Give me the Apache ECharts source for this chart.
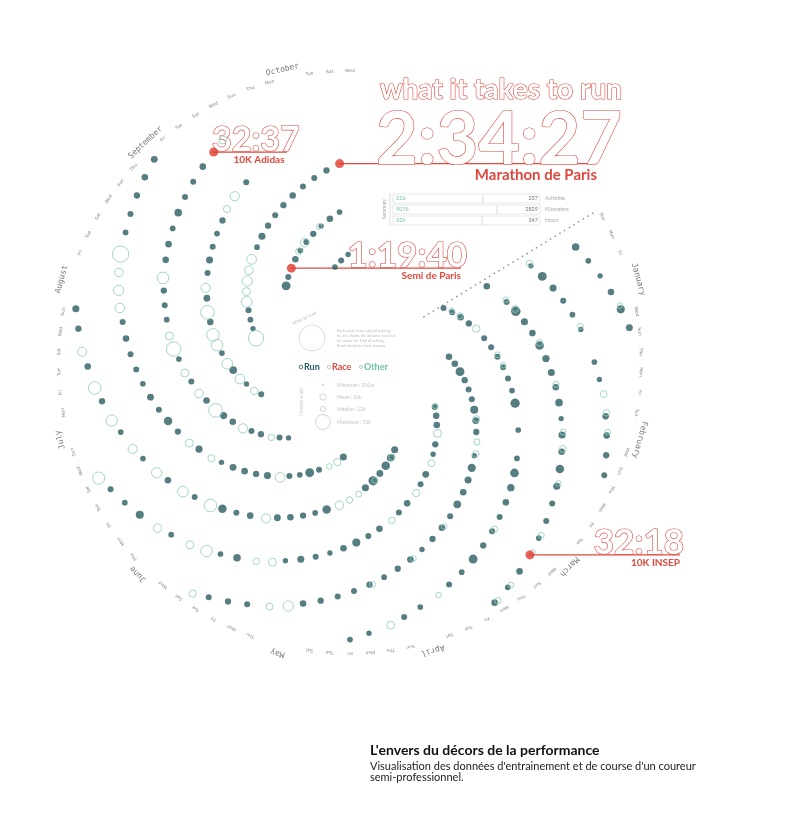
<!DOCTYPE html>
<html>
<head>
<meta charset="utf-8">
<script src="https://cdn.jsdelivr.net/npm/echarts@6/dist/echarts.min.js"></script>
<style>
html, body { margin: 0; padding: 0; background: #fff; }
#chart { width: 800px; height: 818px; }
</style>
</head>
<body>
<div id="chart"></div>
<script>
/* ---------- data : one value per day (km), 0 = no activity ---------- */
var months = ['January', 'February', 'March', 'April', 'May', 'June', 'July', 'August', 'September', 'October'];
var weekdays = ['Mon', 'Tue', 'Wed', 'Thu', 'Fri', 'Sat', 'Sun'];

var runJan = [10,12,8,16,10,0,22,9,12,10, 14,8,11,25,10,12,0,14,9,18, 10,12,8,13,10,20,0,12,10,15, 9];
var runFeb = [12,10,14,8,22,10,12,0,11,9, 16,12,10,24,8,12,10,0,14,11, 18,9,12,10,13,0,20,10];
var runMar = [11,9,14,12,0,21,10,12,8,15, 10,0,19,12,9,11,14,10,0,8, 12,10,12,0,16,11,9,13,10,22, 12];
var runApr = [10,12,9,14,0,11,10,16,12,8, 0,20,10,12,9,13,0,11,10,24, 12,9,0,14,10,11,8,0,18,10];
var runMay = [9,0,12,10,14,0,8,11,0,20, 10,12,0,9,14,0,10,11,8,0, 22,12,0,10,9,13,0,11,10,0, 16];
var runJun = [10,0,12,9,0,14,10,0,8,11, 20,0,10,12,0,9,0,13,10,0, 11,8,0,18,10,0,12,9,0,14];
var runJul = [0,10,12,0,9,0,14,11,0,10, 0,20,9,0,12,10,0,8,0,13, 11,0,10,9,0,16,0,10,12,0, 9];
var runAug = [10,0,9,0,12,11,0,0,10,14, 0,9,0,0,12,10,0,8,0,11, 0,9,13,0,0,10,0,12,9,0, 10];
var runSep = [12,10,0,14,9,11,0,10,16,12, 0,9,10,13,0,11,10,22,9,0, 12,10,14,0,0,0,11,10,0,12];
var runOct = [10,0,0,9,11,0,0,10,12,0, 0,11,10,0,0,8,10,0,9,12, 11,0,10,9,0,0,8,0,0];

var otherJan = [0,0,8,0,6,0,0,0,7,6, 0,0,0,9,0,0,10,0,0,6, 0,0,7,0,0,8,0,0,6,0, 0];
var otherFeb = [0,6,0,0,0,0,7,9,0,0, 0,8,0,0,0,6,0,0,7,0, 0,0,9,0,8,0,0,6];
var otherMar = [0,0,6,0,7,0,0,0,8,0, 0,12,0,0,7,0,0,0,6,0, 0,8,0,9,0,0,6,0,0,0, 7];
var otherApr = [0,6,0,0,10,0,0,8,0,0, 6,0,0,7,0,0,8,0,0,6, 0,0,12,0,0,7,0,7,0,0];
var otherMay = [0,8,0,0,0,14,0,0,10,0, 0,0,6,0,0,20,0,0,0,9, 0,0,12,0,0,0,8,0,0,16, 0];
var otherJun = [0,18,0,0,10,0,0,25,0,0, 0,12,0,0,30,0,8,0,0,14, 0,0,22,0,0,10,0,0,16,0];
var otherJul = [20,0,0,12,0,28,0,0,16,0, 35,0,0,10,0,0,24,0,14,0, 0,18,0,0,30,0,12,0,0,22, 0];
var otherAug = [0,16,0,40,0,0,25,12,0,0, 30,0,18,45,0,0,20,0,35,0, 14,0,0,26,50,0,16,0,0,22, 0];
var otherSep = [0,0,12,0,0,0,20,0,0,0, 14,0,0,0,18,0,0,0,0,10, 0,0,0,16,0,0,0,0,12,0];
var otherOct = [0,0,0,8,0,0,0,14,0,0, 0,0,0,0,0,6,0,0,0,0, 0,0,0,0,0,0,0,0,0];

var raceNames = ['10K INSEP', '10K Adidas', 'Semi de Paris', 'Marathon de Paris'];
var raceTimes = ['32:18', '32:37', '1:19:40', '2:34:27'];
var raceDays  = [77, 267, 268, 297];

var summaryLabels = ['Activities', 'Kilometers', 'Hours'];
var summaryBefore = ['226', '9076', '32h'];
var summaryNow    = ['237', '2829', '247'];

/* ---------- spiral layout ---------- */
var START = 31.5;     // where the year starts (degrees, screen)
var DAY0 = 1.5;       // angle of Jan 1 on the angle axis
var R_IN = 94;        // inner edge of the spiral
var RING = 188;       // width of the band of dots
var STEP = 48.413;    // each day moves one arm outwards
var PHASE = 14;
var OTHER_SHIFT = -0.8; // rings sit a touch before the run dot

function dayRadius(d) { return R_IN + ((PHASE + d * STEP) % RING); }
function dayAngle(d) { return d + DAY0; }

var runMonths = [runJan, runFeb, runMar, runApr, runMay, runJun, runJul, runAug, runSep, runOct];
var otherMonths = [otherJan, otherFeb, otherMar, otherApr, otherMay, otherJun, otherJul, otherAug, otherSep, otherOct];

var runData = [], otherData = [], monthLabels = [], dayLabels = [], midDays = [];
var d = 0;
runMonths.forEach(function (arr, m) {
    midDays.push(d + 14);
    arr.forEach(function (km, i) {
        if (km > 0) runData.push([dayRadius(d), dayAngle(d), km]);
        var o = otherMonths[m][i];
        if (o > 0) otherData.push([dayRadius(d), dayAngle(d) + OTHER_SHIFT, o]);
        d++;
    });
});
var lastDay = d;

function tangent(a) { return START - a - 90; }

months.forEach(function (name, m) {
    var a = dayAngle(midDays[m]);
    monthLabels.push({ value: [300, a], name: name, label: { rotate: tangent(a) } });
});
for (var k = 0; k < lastDay; k += 4) {
    var near = midDays.some(function (md) { return Math.abs(md - k) < 3; });
    if (near) continue;
    var a = dayAngle(k);
    dayLabels.push({ value: [291, a], name: weekdays[(k + 3) % 7], label: { rotate: tangent(a) } });
}

var raceData = raceDays.map(function (rd, i) { return { value: [dayRadius(rd), dayAngle(rd)], name: raceNames[i] }; });

var chart = echarts.init(document.getElementById('chart'));
chart.setOption({
    animation: false,
    backgroundColor: '#fff',
    polar: { center: [350, 362], radius: 330 },
    angleAxis: { type: 'value', min: 0, max: 360, startAngle: START, clockwise: true, show: false },
    radiusAxis: { type: 'value', min: 0, max: 330, show: false },
    series: [
        {   // runs
            type: 'scatter', coordinateSystem: 'polar', silent: true,
            data: runData,
            symbolSize: function (v) { return 1.9 * Math.sqrt(v[2]); },
            itemStyle: { color: '#2c5e63' }
        },
        {   // other activities, open circles
            type: 'scatter', coordinateSystem: 'polar', silent: true,
            data: otherData,
            symbolSize: function (v) { return 2.3 * Math.sqrt(v[2]); },
            itemStyle: { color: 'rgba(255,255,255,0)', borderColor: '#8ccdb9', borderWidth: 1 }
        },
        {   // races
            type: 'scatter', coordinateSystem: 'polar', silent: true,
            data: raceData, symbolSize: 9,
            itemStyle: { color: '#e2392e' }
        },
        {   // start line
            type: 'line', coordinateSystem: 'polar', silent: true, symbol: 'none',
            data: [[R_IN - 8, 0], [R_IN + RING + 6, 0]],
            lineStyle: { color: '#8a8a8a', width: 1.4, type: [1.5, 4] }
        },
        {   // month names
            type: 'scatter', coordinateSystem: 'polar', silent: true, symbolSize: 0,
            data: monthLabels,
            label: { show: true, position: 'inside', formatter: '{b}', fontFamily: 'DejaVu Sans Mono', fontSize: 8, color: '#555' }
        },
        {   // day names
            type: 'scatter', coordinateSystem: 'polar', silent: true, symbolSize: 0,
            data: dayLabels,
            label: { show: true, position: 'inside', formatter: '{b}', fontFamily: 'DejaVu Sans', fontSize: 4.5, color: '#666' }
        }
    ]
});

/* ---------- annotations, hooked on the race dots ---------- */
var RED = '#e0473e';
var pts = raceDays.map(function (rd) { return chart.convertToPixel({ seriesIndex: 2 }, [dayRadius(rd), dayAngle(rd)]); });
// outlined figure sitting just above the leader line
var outline = function (txt, x, lineY, size, align) {
    return { type: 'text', x: x, y: lineY - 3 + 0.23 * size, silent: true,
        style: { text: txt, font: 'bold ' + size + 'px Lato', fill: '#fff', stroke: RED, lineWidth: 1.2,
                 textAlign: align, textVerticalAlign: 'bottom' } };
};
var plain = function (txt, x, y, font, color, align, valign) {
    return { type: 'text', x: x, y: y, silent: true,
        style: { text: txt, font: font, fill: color, textAlign: align || 'left', textVerticalAlign: valign || 'top' } };
};
var hline = function (p, x2) {
    return { type: 'line', silent: true, shape: { x1: p[0], y1: p[1], x2: x2, y2: p[1] }, style: { stroke: RED, lineWidth: 1.2 } };
};
var els = [];
// 10K INSEP
els.push(hline(pts[0], 680), outline(raceTimes[0], 684, pts[0][1], 35, 'right'),
         plain(raceNames[0], 680, pts[0][1] + 3, 'bold 10px Lato', RED, 'right'));
// 10K Adidas
els.push(hline(pts[1], 287), outline(raceTimes[1], 212, pts[1][1], 34, 'left'),
         plain(raceNames[1], 259, pts[1][1] + 3, 'bold 10px Lato', RED, 'center'));
// Semi de Paris
els.push(hline(pts[2], 461), outline(raceTimes[2], 467, pts[2][1], 35, 'right'),
         plain(raceNames[2], 461, pts[2][1] + 3, 'bold 10px Lato', RED, 'right'));
// Marathon de Paris
els.push(hline(pts[3], 597), outline(raceTimes[3], 622, pts[3][1], 72, 'right'),
         plain(raceNames[3], 597, pts[3][1] + 4, 'bold 15px Lato', RED, 'right'));
els.push(outline('what it takes to run', 622, 101, 28, 'right'));

// summary table
els.push({ type: 'text', x: 384, y: 209, rotation: Math.PI / 2, silent: true,
    style: { text: 'Summary', font: '5px Lato', fill: '#aaa', textAlign: 'center', textVerticalAlign: 'middle' } });
els.push({ type: 'line', silent: true, shape: { x1: 390, y1: 193, x2: 390, y2: 226 }, style: { stroke: '#ddd', lineWidth: 1 } });
var splitX = [483, 497, 482];
summaryLabels.forEach(function (lab, i) {
    var y = 194 + i * 11;
    els.push({ type: 'rect', silent: true, shape: { x: 393, y: y, width: splitX[i] - 393, height: 9 }, style: { fill: 'none', stroke: '#e2e2e2', lineWidth: 0.8 } });
    els.push({ type: 'rect', silent: true, shape: { x: splitX[i], y: y, width: 540 - splitX[i], height: 9 }, style: { fill: 'none', stroke: '#e2e2e2', lineWidth: 0.8 } });
    els.push(plain(summaryBefore[i], 396, y + 4.5, '5.5px Lato', '#7cc4b0', 'left', 'middle'));
    els.push(plain(summaryNow[i], 538, y + 4.5, '5.5px Lato', '#777', 'right', 'middle'));
    els.push(plain(lab, 545, y + 4.5, '5px Lato', '#aaa', 'left', 'middle'));
});

// reading guide in the middle
els.push({ type: 'circle', silent: true, shape: { cx: 312, cy: 338, r: 13 }, style: { fill: 'none', stroke: '#ddd', lineWidth: 1 } });
els.push({ type: 'text', x: 303, y: 316, rotation: 0.45, silent: true, style: { text: 'What to read', font: '4.5px Lato', fill: '#bbb', textAlign: 'center' } });
['Each circle is one day of training,', 'its size shows the distance covered,', 'its colour the kind of activity.', 'Read clockwise from January.'].forEach(function (t, i) {
    els.push(plain(t, 337, 331 + i * 5, '3.8px Lato', '#bbb', 'left', 'middle'));
});
els.push({ type: 'circle', silent: true, shape: { cx: 301, cy: 367, r: 1.8 }, style: { fill: 'none', stroke: '#2c5e63', lineWidth: 0.8 } });
els.push(plain('Run', 304, 367, 'bold 9px Lato', '#2c5e63', 'left', 'middle'));
els.push({ type: 'circle', silent: true, shape: { cx: 329, cy: 367, r: 1.8 }, style: { fill: 'none', stroke: '#bbb', lineWidth: 0.8 } });
els.push(plain('Race', 332, 367, 'bold 9px Lato', RED, 'left', 'middle'));
els.push({ type: 'circle', silent: true, shape: { cx: 361, cy: 367, r: 1.5 }, style: { fill: 'none', stroke: '#8ccdb9', lineWidth: 0.8 } });
els.push(plain('Other', 364, 367, 'bold 9px Lato', '#6fbfa6', 'left', 'middle'));
els.push({ type: 'text', x: 301, y: 402, rotation: Math.PI / 2, silent: true,
    style: { text: 'Overall scale', font: '5px Lato', fill: '#ccc', textAlign: 'center', textVerticalAlign: 'middle' } });
[['Minimum : 200m', 385, 0.8], ['Mean : 10k', 397, 3.2], ['Median : 12k', 409, 2.6], ['Maximum : 70k', 422, 7.5]].forEach(function (s) {
    els.push({ type: 'circle', silent: true, shape: { cx: 323, cy: s[1], r: s[2] }, style: { fill: 'none', stroke: '#c8c8c8', lineWidth: 0.8 } });
    els.push(plain(s[0], 337, s[1], '5px Lato', '#c4c4c4', 'left', 'middle'));
});

// caption
els.push(plain("L'envers du décors de la performance", 370, 743, 'bold 14px Lato', '#111'));
els.push(plain("Visualisation des données d'entrainement et de course d'un coureur\nsemi-professionnel.", 370, 761, '11px Lato', '#222'));

chart.setOption({ graphic: { elements: els } });
</script>
</body>
</html>
